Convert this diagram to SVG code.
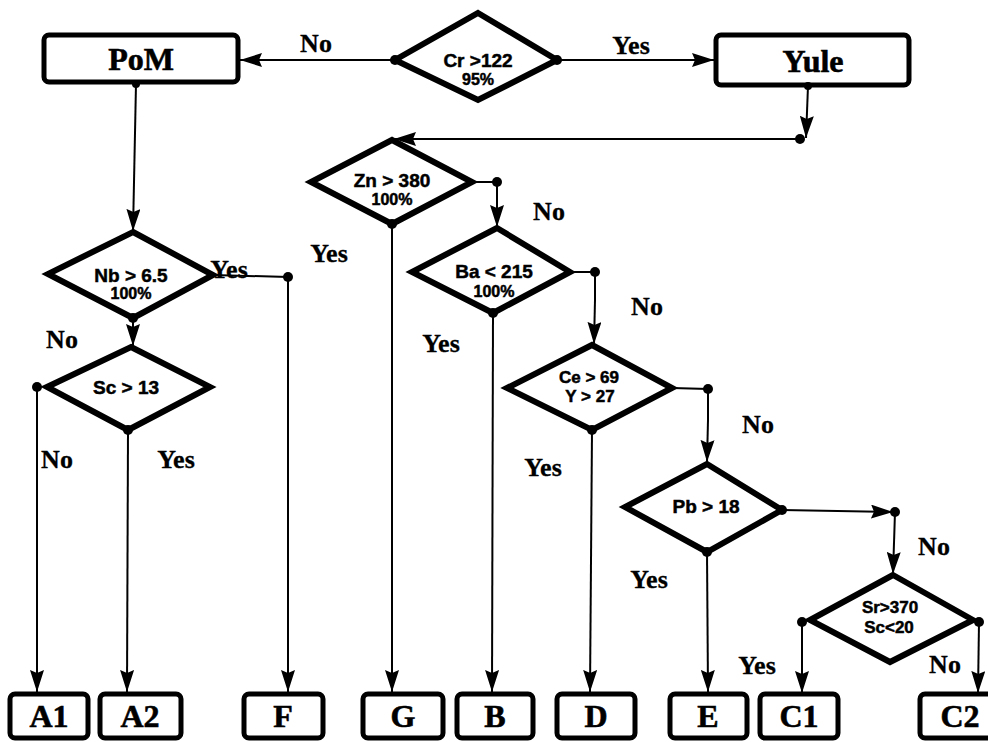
<svg xmlns="http://www.w3.org/2000/svg" width="988" height="742" viewBox="0 0 988 742">
<defs>
<marker id="ah" markerUnits="userSpaceOnUse" markerWidth="22" markerHeight="14" refX="22" refY="7" orient="auto">
<path d="M0,0 L22,7 L0,14 L3,7 z" fill="#000"/>
</marker>
<style>
.dia{fill:#fff;stroke:#000;stroke-width:6;stroke-linejoin:miter}
.box{fill:#fff;stroke:#000;stroke-width:5}
.ln{fill:none;stroke:#000;stroke-width:2}
.arr{fill:none;stroke:#000;stroke-width:2;marker-end:url(#ah)}
.dot{fill:#000}
.dt{font-family:"Liberation Sans",Arial,sans-serif;font-weight:bold;text-anchor:middle;fill:#000;stroke:#000;stroke-width:0.5}
.bt{font-family:"Liberation Serif","Times New Roman",serif;font-weight:bold;font-size:32px;text-anchor:middle;fill:#000;stroke:#000;stroke-width:0.6}
.lb{font-family:"Liberation Serif","Times New Roman",serif;font-weight:bold;font-size:26px;text-anchor:middle;fill:#000;stroke:#000;stroke-width:0.3}
</style>
</defs>
<rect width="988" height="742" fill="#fff"/>

<g id="connectors">
<line class="arr" x1="395" y1="60" x2="240" y2="60"/>
<line class="arr" x1="557" y1="60" x2="714" y2="60"/>
<line class="arr" x1="808" y1="86" x2="806" y2="138"/>
<line class="arr" x1="800" y1="139" x2="394" y2="139"/>
<line class="arr" x1="136" y1="84" x2="133" y2="231"/>
<polyline class="ln" points="213,275 288,277 288,560"/>
<line class="arr" x1="288" y1="560" x2="288" y2="692"/>
<line class="arr" x1="133" y1="318" x2="133" y2="346"/>
<line class="arr" x1="37" y1="387" x2="37" y2="692"/>
<line class="arr" x1="128" y1="430" x2="127" y2="692"/>
<polyline class="ln" points="472,182 497,182 497,200"/>
<line class="arr" x1="497" y1="200" x2="497" y2="227"/>
<line class="arr" x1="392" y1="224" x2="392" y2="692"/>
<polyline class="ln" points="570,272 595,272 595,300"/>
<line class="arr" x1="595" y1="300" x2="594" y2="344"/>
<line class="arr" x1="493" y1="313" x2="492" y2="692"/>
<polyline class="ln" points="672,388 708,389 708,420"/>
<line class="arr" x1="708" y1="420" x2="707" y2="462"/>
<line class="arr" x1="592" y1="430" x2="590" y2="692"/>
<line class="arr" x1="782" y1="510" x2="893" y2="512"/>
<line class="arr" x1="895" y1="512" x2="893" y2="574"/>
<line class="arr" x1="707" y1="552" x2="708" y2="692"/>
<line class="arr" x1="802" y1="622" x2="802" y2="693"/>
<line class="arr" x1="979" y1="622" x2="978" y2="693"/>
</g>

<g id="n-cr">
<polygon class="dia" points="478,13 557,60 478,100 395,60"/>
<text class="dt" x="478" y="67" font-size="19">Cr &gt;122</text>
<text class="dt" x="478" y="85" font-size="16">95%</text>
</g>
<g id="n-pom">
<rect class="box" x="44" y="35" width="194" height="47" rx="5"/>
<text class="bt" x="141" y="70">PoM</text>
</g>
<g id="n-yule">
<rect class="box" x="716" y="35" width="193" height="50" rx="5"/>
<text class="bt" x="813" y="72">Yule</text>
</g>
<g id="n-nb">
<polygon class="dia" points="133,232 213,275 133,318 48,274"/>
<text class="dt" x="131" y="282" font-size="19">Nb &gt; 6.5</text>
<text class="dt" x="131" y="299" font-size="16">100%</text>
</g>
<g id="n-sc">
<polygon class="dia" points="131,347 210,387 128,430 47,387"/>
<text class="dt" x="126" y="394" font-size="19">Sc &gt; 13</text>
</g>
<g id="n-zn">
<polygon class="dia" points="392,140 472,182 392,224 311,182"/>
<text class="dt" x="392" y="187" font-size="19">Zn &gt; 380</text>
<text class="dt" x="392" y="205" font-size="16">100%</text>
</g>
<g id="n-ba">
<polygon class="dia" points="497,228 570,272 493,313 412,272"/>
<text class="dt" x="494" y="278" font-size="19">Ba &lt; 215</text>
<text class="dt" x="494" y="297" font-size="16">100%</text>
</g>
<g id="n-ce">
<polygon class="dia" points="592,345 672,388 592,430 507,388"/>
<text class="dt" x="589" y="383" font-size="17">Ce &gt; 69</text>
<text class="dt" x="590" y="402" font-size="17">Y  &gt; 27</text>
</g>
<g id="n-pb">
<polygon class="dia" points="707,464 782,510 707,552 625,507"/>
<text class="dt" x="706" y="513" font-size="19">Pb &gt; 18</text>
</g>
<g id="n-sr">
<polygon class="dia" points="893,575 973,620 890,662 810,620"/>
<text class="dt" x="890" y="613" font-size="17">Sr&gt;370</text>
<text class="dt" x="889" y="633" font-size="17">Sc&lt;20</text>
</g>

<g id="dots">
<circle class="dot" cx="395" cy="60" r="5"/>
<circle class="dot" cx="557" cy="60" r="5"/>
<circle class="dot" cx="136" cy="84" r="4"/>
<circle class="dot" cx="808" cy="86" r="4"/>
<circle class="dot" cx="800" cy="139" r="5"/>
<circle class="dot" cx="288" cy="277" r="5"/>
<circle class="dot" cx="133" cy="318" r="5"/>
<circle class="dot" cx="37" cy="387" r="5"/>
<circle class="dot" cx="128" cy="430" r="5"/>
<circle class="dot" cx="497" cy="182" r="5"/>
<circle class="dot" cx="392" cy="224" r="5"/>
<circle class="dot" cx="595" cy="272" r="5"/>
<circle class="dot" cx="493" cy="313" r="5"/>
<circle class="dot" cx="708" cy="389" r="5"/>
<circle class="dot" cx="592" cy="430" r="5"/>
<circle class="dot" cx="782" cy="510" r="5"/>
<circle class="dot" cx="895" cy="512" r="5"/>
<circle class="dot" cx="707" cy="552" r="5"/>
<circle class="dot" cx="802" cy="622" r="5"/>
<circle class="dot" cx="979" cy="622" r="5"/>
</g>

<g id="labels">
<text class="lb" x="316" y="52">No</text>
<text class="lb" x="631" y="54">Yes</text>
<text class="lb" x="229" y="278">Yes</text>
<text class="lb" x="62" y="348">No</text>
<text class="lb" x="57" y="468">No</text>
<text class="lb" x="176" y="468">Yes</text>
<text class="lb" x="329" y="262">Yes</text>
<text class="lb" x="549" y="220">No</text>
<text class="lb" x="441" y="352">Yes</text>
<text class="lb" x="647" y="315">No</text>
<text class="lb" x="543" y="476">Yes</text>
<text class="lb" x="758" y="433">No</text>
<text class="lb" x="649" y="588">Yes</text>
<text class="lb" x="934" y="555">No</text>
<text class="lb" x="757" y="674">Yes</text>
<text class="lb" x="945" y="673">No</text>
</g>

<g id="n-a1"><rect class="box" x="10" y="694" width="78" height="44" rx="5"/><text class="bt" x="49" y="727">A1</text></g>
<g id="n-a2"><rect class="box" x="100" y="694" width="81" height="44" rx="5"/><text class="bt" x="140" y="727">A2</text></g>
<g id="n-f"><rect class="box" x="244" y="694" width="79" height="44" rx="5"/><text class="bt" x="283" y="727">F</text></g>
<g id="n-g"><rect class="box" x="363" y="694" width="80" height="44" rx="5"/><text class="bt" x="403" y="727">G</text></g>
<g id="n-b"><rect class="box" x="457" y="694" width="76" height="44" rx="5"/><text class="bt" x="495" y="727">B</text></g>
<g id="n-d"><rect class="box" x="557" y="694" width="78" height="44" rx="5"/><text class="bt" x="596" y="727">D</text></g>
<g id="n-e"><rect class="box" x="670" y="694" width="77" height="44" rx="5"/><text class="bt" x="708" y="727">E</text></g>
<g id="n-c1"><rect class="box" x="760" y="694" width="78" height="44" rx="5"/><text class="bt" x="799" y="727">C1</text></g>
<g id="n-c2"><rect class="box" x="920" y="694" width="74" height="44" rx="5"/><text class="bt" x="960" y="727">C2</text></g>
</svg>
